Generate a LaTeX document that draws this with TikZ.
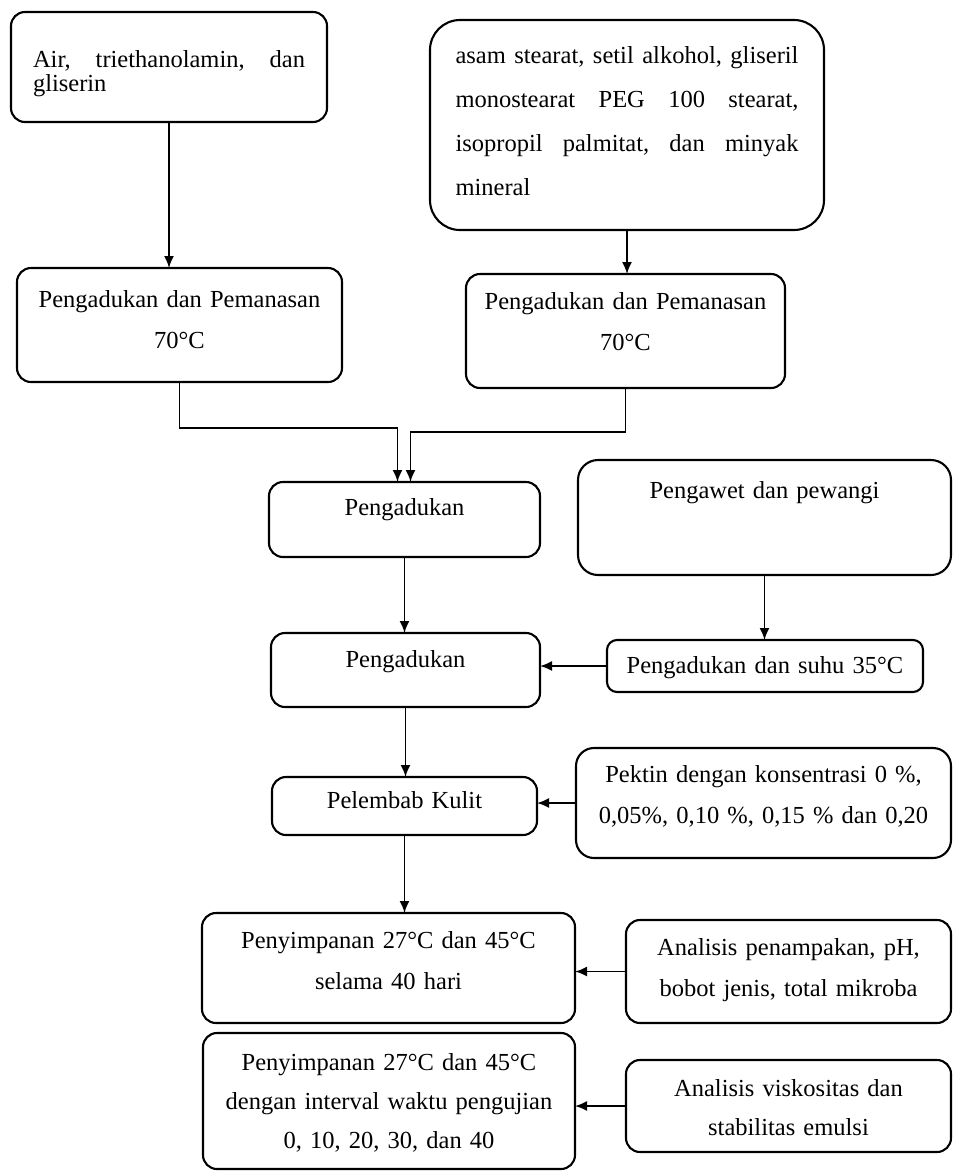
\documentclass[tikz,border=0pt]{standalone}
\usepackage{fontspec}
\setmainfont{Liberation Serif}
\usetikzlibrary{arrows.meta}

\tikzset{
  kotak/.style={draw, line width=2.1pt, rounded corners=14pt, anchor=north west,
    inner xsep=10pt, inner ysep=0pt, outer sep=0pt, align=center,
    font=\fontsize{24.5}{41}\selectfont},
  panah/.style={-{Latex[length=12pt,width=10pt]}, line width=1.8pt}
}

\begin{document}
\begin{tikzpicture}[x=1pt, y=-1pt]
\useasboundingbox (0,0) rectangle (953,1171);

\node[kotak, align=left, inner xsep=22pt, text width=272pt, text height=55pt, text depth=55pt, font=\fontsize{24.5}{24}\selectfont] (air) at (11,12) {\makebox[272pt][s]{Air,\hfill triethanolamin,\hfill dan}\\gliserin};
\node[kotak, align=left, rounded corners=30pt, inner xsep=25.5pt, text width=343pt, text height=43pt, text depth=167pt, font=\fontsize{24.5}{44}\selectfont] (asam) at (430,20) {\makebox[343pt][s]{asam\hfill stearat,\hfill setil\hfill alkohol,\hfill gliseril}\\\makebox[343pt][s]{monostearat\hfill PEG\hfill 100\hfill stearat,}\\\makebox[343pt][s]{isopropil\hfill palmitat,\hfill dan\hfill minyak}\\mineral};

\node[kotak, text width=305pt, text height=39pt, text depth=75pt] (panas1) at (17,268) {Pengadukan dan Pemanasan\\70°C};
\node[kotak, text width=299pt, text height=35pt, text depth=79pt] (panas2) at (466,274) {Pengadukan dan Pemanasan\\70°C};

\node[kotak, text width=251pt, text height=33pt, text depth=42pt] (aduk1) at (269,482) {Pengadukan};
\node[kotak, rounded corners=20pt, text width=353pt, text height=38pt, text depth=77pt] (pewangi) at (578,460) {Pengawet dan pewangi};

\node[kotak, text width=249pt, text height=34pt, text depth=40pt] (aduk2) at (271,633) {Pengadukan};
\node[kotak, rounded corners=10pt, text width=296pt, text height=33pt, text depth=19pt] (suhu) at (607,640) {Pengadukan dan suhu 35°C};

\node[kotak, text width=245pt, text height=31pt, text depth=27pt] (lembab) at (272,777) {Pelembab Kulit};
\node[kotak, rounded corners=18pt, text width=355pt, text height=34pt, text depth=76pt] (pektin) at (576,748) {Pektin dengan konsentrasi 0 \%,\\0,05\%, 0,10 \%, 0,15 \% dan 0,20};

\node[kotak, text width=353pt, text height=35pt, text depth=75pt] (simpan1) at (202,913) {Penyimpanan 27°C dan 45°C\\selama 40 hari};
\node[kotak, text width=305pt, text height=35pt, text depth=68pt] (analisis1) at (626,920) {Analisis penampakan, pH,\\bobot jenis, total mikroba};

\node[kotak, text width=352pt, text height=37pt, text depth=99pt, font=\fontsize{24.5}{39}\selectfont] (simpan2) at (203,1033) {Penyimpanan 27°C dan 45°C\\dengan interval waktu pengujian\\0, 10, 20, 30, dan 40};
\node[kotak, text width=305pt, text height=36pt, text depth=56pt, font=\fontsize{24.5}{39}\selectfont] (analisis2) at (626,1060) {Analisis viskositas dan\\stabilitas emulsi};

\draw[panah] (air.south) -- (air.south |- panas1.north);
\draw[panah] (asam.south) -- (asam.south |- panas2.north);
\draw[panah] (panas1.south) -- ++(0,46) -| ([xshift=-7pt]aduk1.north);
\draw[panah] (panas2.south) -- ++(0,44) -| ([xshift=6pt]aduk1.north);
\draw[panah] (aduk1.south) -- (aduk1.south |- aduk2.north);
\draw[panah] (pewangi.south) -- (pewangi.south |- suhu.north);
\draw[panah] (suhu.west) -- (suhu.west -| aduk2.east);
\draw[panah] (aduk2.south) -- (aduk2.south |- lembab.north);
\draw[panah] (pektin.west) -- (pektin.west -| lembab.east);
\draw[panah] (lembab.south) -- (lembab.south |- simpan1.north);
\draw[panah] (analisis1.west) -- (analisis1.west -| simpan1.east);
\draw[panah] (analisis2.west) -- (analisis2.west -| simpan2.east);

\end{tikzpicture}
\end{document}
